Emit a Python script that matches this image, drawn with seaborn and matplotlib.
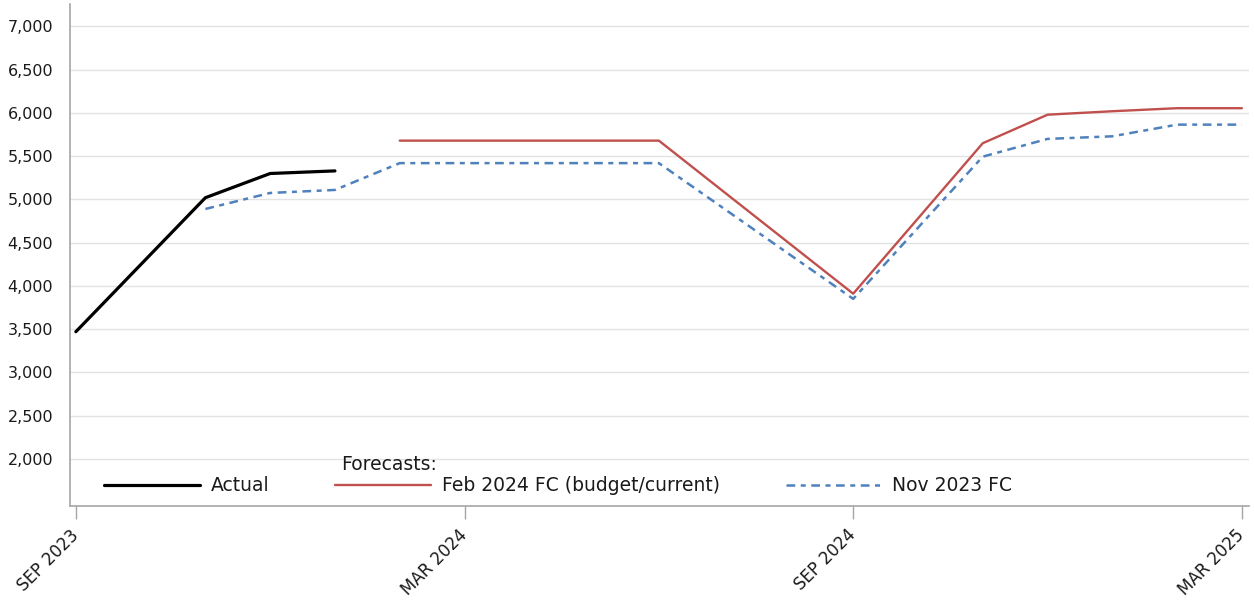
import numpy as np
import pandas as pd
import matplotlib
matplotlib.use("Agg")
import matplotlib.pyplot as plt
import matplotlib.ticker as mticker
import seaborn as sns

# values
actual_months = ["2023-09", "2023-11", "2023-12", "2024-01"]
actual_vals = [3470, 5020, 5300, 5330]

feb_fc_months = ["2024-02", "2024-06", "2024-09", "2024-11", "2024-12", "2025-01", "2025-02", "2025-03"]
feb_fc_vals = [5680, 5680, 3910, 5650, 5980, 6020, 6055, 6055]

nov_fc_months = ["2023-11", "2023-12", "2024-01", "2024-02", "2024-06", "2024-09", "2024-11",
                 "2024-12", "2025-01", "2025-02", "2025-03"]
nov_fc_vals = [4890, 5075, 5110, 5420, 5420, 3850, 5495, 5700, 5730, 5865, 5865]

tick_months = ["2023-09", "2024-03", "2024-09", "2025-03"]
tick_labels = ["SEP 2023", "MAR 2024", "SEP 2024", "MAR 2025"]

sns.set_theme(style="white")
plt.rcParams["font.family"] = ["DejaVu Sans"]
plt.rcParams["text.color"] = "#1a1a1a"


def month_index(months):
    # months counted from Sep 2023, evenly spaced like the original axis
    d = pd.to_datetime(months)
    return (d.year - 2023) * 12 + d.month - 9


def to_df(months, vals):
    return pd.DataFrame({"month": month_index(months), "value": vals})


fig = plt.figure(figsize=(12.54, 6.0), dpi=100)
ax = fig.add_axes([70 / 1254, 1 - 506 / 600, (1249 - 70) / 1254, (506 - 4) / 600])

sns.lineplot(data=to_df(actual_months, actual_vals), x="month", y="value",
             color="black", linewidth=2.3, label="Actual", ax=ax)
sns.lineplot(data=to_df(feb_fc_months, feb_fc_vals), x="month", y="value",
             color="#C0504D", linewidth=1.7, label="Feb 2024 FC (budget/current)", ax=ax)
sns.lineplot(data=to_df(nov_fc_months, nov_fc_vals), x="month", y="value",
             color="#4F81BD", linewidth=1.8, linestyle=(0, (3.5, 2.2, 2, 2.2)),
             label="Nov 2023 FC", ax=ax)

ax.set_xlim(-0.09, 18.11)
ax.set_ylim(1455, 7260)
ax.set_yticks(np.arange(2000, 7001, 500))
ax.yaxis.set_major_formatter(mticker.FuncFormatter(lambda v, p: f"{int(v):,}"))
ax.set_xticks(month_index(tick_months))
ax.set_xticklabels(tick_labels, rotation=45, ha="right", va="center", rotation_mode="anchor")
ax.set_xlabel("")
ax.set_ylabel("")

ax.grid(axis="y", color="#e3e3e3", linewidth=1)
ax.grid(axis="x", visible=False)
for side in ["top", "right"]:
    ax.spines[side].set_visible(False)
for side in ["left", "bottom"]:
    ax.spines[side].set_color("#a6a6a6")
    ax.spines[side].set_linewidth(1.2)

ax.tick_params(axis="y", length=0, pad=12, labelsize=11.5, labelcolor="#1a1a1a")
ax.tick_params(axis="x", length=9, width=1, color="#a6a6a6", pad=10, labelsize=12,
               labelcolor="#1a1a1a", bottom=True)

leg = ax.legend(loc="center left", bbox_to_anchor=(0.0288, 0.04), ncol=3, frameon=False,
                fontsize=13.5, handlelength=5.1, handletextpad=0.6, columnspacing=3.5,
                borderpad=0, borderaxespad=0)
ax.text(0.2299, 0.082, "Forecasts:", transform=ax.transAxes, fontsize=13.5,
        va="center", ha="left")

fig.savefig("out.png", dpi=100)
